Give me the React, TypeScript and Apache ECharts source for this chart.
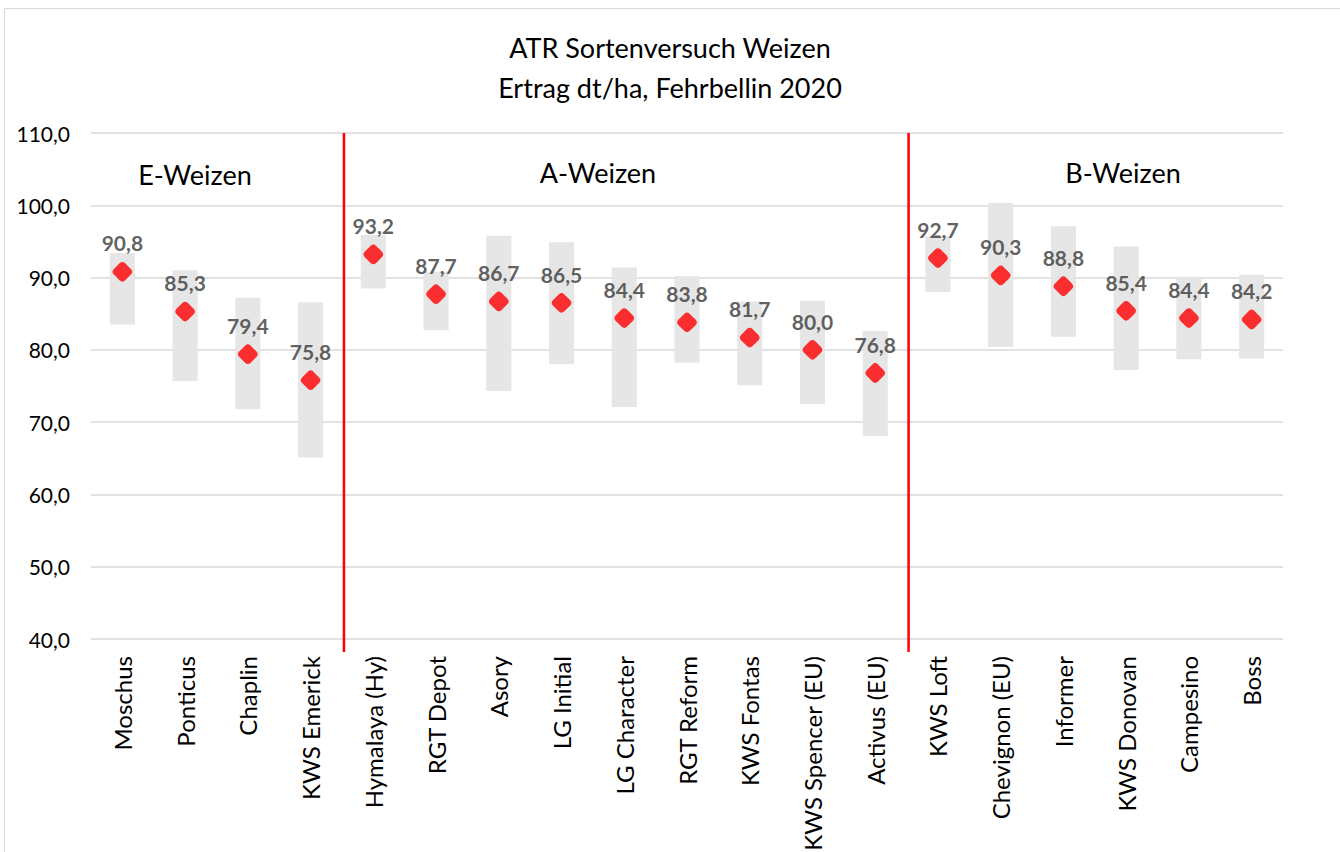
import React, { useEffect, useRef } from "react";
import * as echarts from "echarts";

const categories = [
  "Moschus", "Ponticus", "Chaplin", "KWS Emerick",
  "Hymalaya (Hy)", "RGT Depot", "Asory", "LG Initial", "LG Character", "RGT Reform",
  "KWS Fontas", "KWS Spencer (EU)", "Activus (EU)",
  "KWS Loft", "Chevignon (EU)", "Informer", "KWS Donovan", "Campesino", "Boss",
];
const meanYield = [90.8, 85.3, 79.4, 75.8, 93.2, 87.7, 86.7, 86.5, 84.4, 83.8, 81.7, 80.0, 76.8, 92.7, 90.3, 88.8, 85.4, 84.4, 84.2];
const minYield = [83.5, 75.7, 71.8, 65.1, 88.5, 82.7, 74.3, 78.0, 72.1, 78.2, 75.1, 72.5, 68.1, 88.0, 80.4, 81.8, 77.2, 78.7, 78.8];
const maxYield = [93.4, 91.0, 87.2, 86.6, 95.9, 90.8, 95.8, 94.9, 91.4, 90.2, 86.7, 86.8, 82.6, 95.7, 100.3, 97.1, 94.3, 90.1, 90.4];
const groupStarts = [4, 13];
const groupNames = ["E-Weizen", "A-Weizen", "B-Weizen"];
const titleLines = ["ATR Sortenversuch Weizen", "Ertrag dt/ha, Fehrbellin 2020"];

const FONT = "Lato, 'Open Sans', sans-serif";
const fmt = (v: number) => v.toFixed(1).replace(".", ",");

export default function App() {
  const ref = useRef<HTMLDivElement>(null);
  useEffect(() => {
    if (!ref.current) return;
    const chart = echarts.init(ref.current, undefined, { renderer: "svg" });
    chart.setOption({
      animation: false,
      backgroundColor: "#ffffff",
      title: {
        text: titleLines.join("\n"),
        left: "center",
        top: 22,
        textStyle: { fontFamily: FONT, fontSize: 27, fontWeight: "normal", color: "#000", lineHeight: 40 },
      },
      grid: { left: 91, right: 57, top: 133, bottom: 213, containLabel: false, outerBoundsMode: "none" },
      xAxis: {
        type: "category",
        data: categories,
        axisLine: { show: false },
        axisTick: { show: false },
        axisLabel: { rotate: 90, interval: 0, margin: 17, fontFamily: FONT, fontSize: 24, color: "#000" },
        splitLine: { show: false },
      },
      yAxis: {
        type: "value",
        min: 40,
        max: 110,
        interval: 10,
        axisLine: { show: false },
        axisTick: { show: false },
        axisLabel: { formatter: (v: number) => fmt(v), margin: 21, fontFamily: FONT, fontSize: 21, color: "#000" },
        splitLine: { lineStyle: { color: "#d9d9d9", width: 1.5 } },
      },
      graphic: [
        { type: "rect", shape: { x: 4.5, y: 8.5, width: 1400, height: 900 }, style: { fill: "none", stroke: "#d9d9d9", lineWidth: 1 }, silent: true },
        { type: "text", x: 195, y: 174, style: { text: groupNames[0], font: `27px ${FONT}`, fill: "#000", align: "center", verticalAlign: "middle" } },
        { type: "text", x: 598, y: 172, style: { text: groupNames[1], font: `27px ${FONT}`, fill: "#000", align: "center", verticalAlign: "middle" } },
        { type: "text", x: 1123, y: 172, style: { text: groupNames[2], font: `27px ${FONT}`, fill: "#000", align: "center", verticalAlign: "middle" } },
      ],
      series: [
        {
          type: "bar",
          stack: "range",
          data: minYield,
          barWidth: "40%",
          itemStyle: { color: "transparent" },
          silent: true,
        },
        {
          type: "bar",
          stack: "range",
          data: maxYield.map((v, i) => +(v - minYield[i]).toFixed(1)),
          barWidth: "40%",
          itemStyle: { color: "#e6e6e6" },
        },
        {
          type: "scatter",
          data: meanYield,
          symbol: "roundRect",
          symbolSize: 16,
          symbolRotate: 45,
          itemStyle: { color: "#ff0000" },
          z: 5,
          label: {
            show: true,
            position: "top",
            distance: 7,
            formatter: (p: any) => fmt(p.value),
            fontFamily: FONT,
            fontSize: 21,
            fontWeight: "bold",
            color: "#383838",
          },
        },
        {
          type: "custom",
          data: groupStarts.map((s) => [s]),
          z: 6,
          renderItem: (params: any, api: any) => {
            const idx = api.value(0);
            const top = api.coord([idx, 110]);
            const bottom = api.coord([idx, 40]);
            const bw = api.size([1, 0])[0];
            const x = top[0] - bw / 2 + 2;
            return {
              type: "line",
              shape: { x1: x, y1: top[1], x2: x, y2: bottom[1] + 13 },
              style: { stroke: "#ff0000", lineWidth: 2.5 },
            };
          },
        },
      ],
    });
    return () => chart.dispose();
  }, []);
  return <div ref={ref} style={{ position: "absolute", left: 0, top: 0, width: 1340, height: 852 }} />;
}
